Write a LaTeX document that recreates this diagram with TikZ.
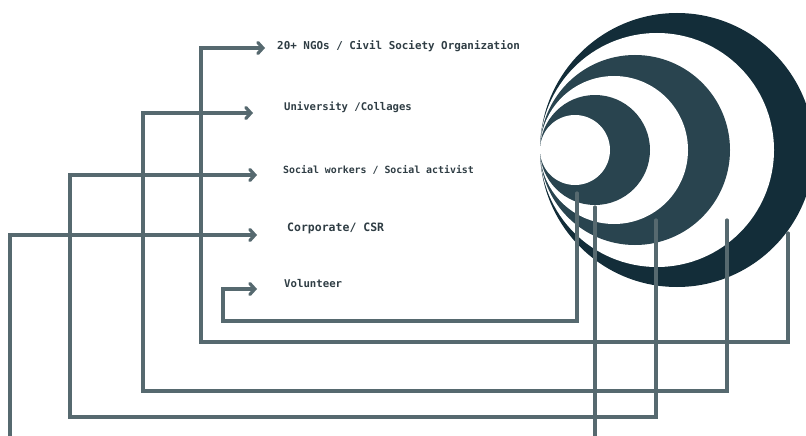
\documentclass[tikz,border=0pt]{standalone}
\usepackage{fontspec}
\setmonofont{DejaVu Sans Mono}
\usepackage{tikz}
\usetikzlibrary{positioning}
\usetikzlibrary{calc}
\usetikzlibrary{arrows.meta}

\definecolor{ringdark}{HTML}{132D39}
\definecolor{ringmid}{HTML}{29444F}
\definecolor{wire}{HTML}{56696F}
\definecolor{ink}{HTML}{2F3D44}

\begin{document}
\begin{tikzpicture}[
    x=1pt, y=-1pt,           % pixel-like coordinates, y going down
    ]
% -------------------------------------------------
\tikzset{
  lbl/.style={anchor=west, inner sep=0pt, text=ink, font=\ttfamily\bfseries},
  ring/.style={draw=none},
  line/.style={draw=wire, line width=3.2pt, line cap=round, line join=miter,
    -{Straight Barb[length=5pt, width=11pt, line cap=round]}},
  wire/.style={draw=wire, line width=3.2pt, line cap=round}
}
\useasboundingbox (0,0) rectangle (806,436);
\clip (0,0) rectangle (806,436);
% rings, all touching on the left
\fill [ring, ringdark] (677,150) circle (137);
\fill [ring, white]    (657,150) circle (117);
\fill [ring, ringmid]  (635,150) circle (95);
\fill [ring, white]    (614,150) circle (74);
\fill [ring, ringmid]  (595,150) circle (55);
\fill [ring, white]    (575,150) circle (35);
% labels
\node [lbl, font=\ttfamily\bfseries\fontsize{10.9}{12}\selectfont] (ngo) at (277,46) {20+ NGOs / Civil Society Organization};
\node [lbl, font=\ttfamily\bfseries\fontsize{10.6}{12}\selectfont] (uni) at (284,107) {University /Collages};
\node [lbl, font=\ttfamily\bfseries\fontsize{9.9}{12}\selectfont] (soc) at (283,170) {Social workers / Social activist};
\node [lbl, font=\ttfamily\bfseries\fontsize{11.5}{12}\selectfont] (corp) at (287,228) {Corporate/ CSR};
\node [lbl, font=\ttfamily\bfseries\fontsize{10.7}{12}\selectfont] (vol) at (284,284) {Volunteer};
% where the wires leave the rings
\coordinate (ngo-src)  at (788,233);
\coordinate (uni-src)  at (727,220);
\coordinate (soc-src)  at (656,220);
\coordinate (corp-src) at (595,207);
\coordinate (vol-src)  at (577,193);
% lower corners
\coordinate (ngo-low)  at (201,342);
\coordinate (uni-low)  at (143,391);
\coordinate (soc-low)  at (70,417);
\coordinate (corp-low) at (10,450);
\coordinate (vol-low)  at (223,321);
\path [line, shorten >=12pt] (ngo-src) |- (ngo-low) |- ([yshift=-2pt]ngo.west);
\path [line, shorten >=31pt] (uni-src) |- (uni-low) |- ([yshift=-6pt]uni.west);
\path [line, shorten >=26pt] (soc-src) |- (soc-low) |- ([yshift=-5pt]soc.west);
\path [line, shorten >=30pt] (corp-src) |- (corp-low) |- ([yshift=-7pt]corp.west);
\path [line, shorten >=27pt] (vol-src) |- (vol-low) |- ([yshift=-5pt]vol.west);
\end{tikzpicture}
\end{document}
